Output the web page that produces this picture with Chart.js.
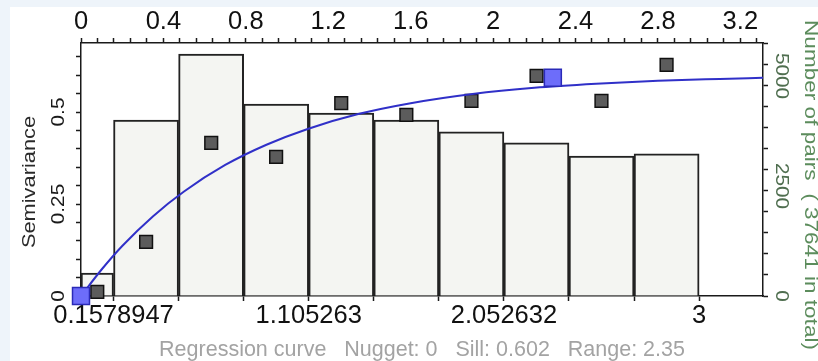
<!DOCTYPE html>
<html>
<head>
<meta charset="utf-8">
<title>Semivariogram</title>
<script src="https://cdn.jsdelivr.net/npm/chart.js@4.4.1/dist/chart.umd.min.js"></script>
<style>
  html, body { margin: 0; padding: 0; background: #eef4fa; }
  canvas { display: block; }
</style>
</head>
<body>
<canvas id="vario" width="818" height="361"></canvas>
<script>
// Lag bins and number of pairs per bin (right axis)
const binEdges = [0, 0.1578947, 0.4736842, 0.7894737, 1.1052632, 1.4210526, 1.7368421, 2.0526316, 2.3684211, 2.6842105, 3];
const pairCounts = [520, 4000, 5500, 4360, 4160, 4000, 3730, 3480, 3180, 3230];

// Experimental semivariance at the bin centres (left axis)
const lagCenters = [0.079, 0.316, 0.632, 0.947, 1.263, 1.579, 1.895, 2.211, 2.526, 2.842];
const semivariance = [0.011, 0.147, 0.416, 0.378, 0.524, 0.492, 0.53, 0.598, 0.53, 0.628];

// Regression curve
const curveLags = [0, 0.1, 0.2, 0.35, 0.5, 0.7, 0.9, 1.1, 1.35, 1.6, 1.9, 2.2, 2.5, 2.8, 3.1, 3.31];
const curveValues = [0, 0.072, 0.136, 0.217, 0.284, 0.356, 0.411, 0.454, 0.495, 0.524, 0.549, 0.566, 0.577, 0.585, 0.59, 0.593];

// Model handles (blue squares)
const handleLags = [0, 2.29];
const handleValues = [0, 0.593];

// Axes
const xMax = 3.31;
const topTicks = [0, 0.4, 0.8, 1.2, 1.6, 2, 2.4, 2.8, 3.2];
const bottomTickLabels = ['0.1578947', '1.105263', '2.052632', '3'];
const leftTickLabels = [0, 0.25, 0.5];
const rightTickLabels = [0, 2500, 5000];
const caption = 'Regression curve   Nugget: 0   Sill: 0.602   Range: 2.35';
const leftTitle = 'Semivariance';
const rightTitle = 'Number of pairs  ( 37641 in total)';

const narrow = "'Liberation Sans Narrow', 'Liberation Sans', Arial, sans-serif";
const hFont = { family: narrow, size: 25.5, lineHeight: 1 };
const captionFont = { family: narrow, size: 21.5, lineHeight: 1 };
const vFamily = "'Liberation Sans', Arial, sans-serif";
const axisColor = '#1a1a1a';

function near(a, b) { return Math.abs(a - b) < 1e-4; }

function binWidthPx(chart, i) {
  const s = chart.scales.x;
  if (!s) return 10;
  return s.getPixelForValue(binEdges[i + 1]) - s.getPixelForValue(binEdges[i]);
}

// white sheet behind the plot
const sheet = {
  id: 'sheet',
  beforeDraw(chart) {
    const ctx = chart.ctx;
    ctx.save();
    ctx.fillStyle = '#ffffff';
    ctx.fillRect(10, 7, chart.width - 10, chart.height - 7);
    ctx.restore();
  }
};

// rotated tick labels and side titles
function drawVertical(ctx, text, x, y, angle, size, stretch, color) {
  ctx.save();
  ctx.translate(x, y);
  ctx.rotate(angle);
  ctx.scale(stretch, 1);
  ctx.font = size + 'px ' + vFamily;
  ctx.fillStyle = color;
  ctx.textAlign = 'center';
  ctx.textBaseline = 'middle';
  ctx.fillText(text, 0, 0);
  ctx.restore();
}

const sideText = {
  id: 'sideText',
  afterDraw(chart) {
    const { ctx, scales: { y, y2 } } = chart;
    leftTickLabels.forEach(v => {
      drawVertical(ctx, String(v), y.right - 22, y.getPixelForValue(v), -Math.PI / 2, 18.5, 1.12, '#1a1a1a');
    });
    rightTickLabels.forEach(v => {
      drawVertical(ctx, String(v), y2.left + 18, y2.getPixelForValue(v), Math.PI / 2, 18.5, 1.12, '#4f6e4f');
    });
    drawVertical(ctx, leftTitle, 30, 182, -Math.PI / 2, 18.5, 1.18, '#2a2a2a');
    drawVertical(ctx, rightTitle, 810, 185, Math.PI / 2, 18.5, 1.22, '#5c8c5c');
  }
};

const firstBin = [{ x: (binEdges[0] + binEdges[1]) / 2, y: pairCounts[0] }];
const otherBins = pairCounts.slice(1).map((c, i) => ({ x: (binEdges[i + 1] + binEdges[i + 2]) / 2, y: c }));

new Chart(document.getElementById('vario'), {
  type: 'line',
  data: {
    datasets: [
      {
        type: 'bar',
        data: firstBin,
        xAxisID: 'x',
        yAxisID: 'y2',
        grouped: false,
        barThickness: ctx => binWidthPx(ctx.chart, 0),
        backgroundColor: '#f4f5f2',
        borderColor: '#222222',
        borderWidth: 2,
        order: 5
      },
      {
        type: 'bar',
        data: otherBins,
        xAxisID: 'x',
        yAxisID: 'y2',
        grouped: false,
        barThickness: ctx => binWidthPx(ctx.chart, 1),
        backgroundColor: '#f4f5f2',
        borderColor: '#222222',
        borderWidth: 2,
        order: 4
      },
      {
        type: 'scatter',
        data: lagCenters.map((h, i) => ({ x: h, y: semivariance[i] })),
        xAxisID: 'x',
        yAxisID: 'y',
        pointStyle: 'rect',
        pointRadius: 9,
        backgroundColor: '#5c5c5c',
        borderColor: '#111111',
        borderWidth: 1.5,
        clip: false,
        order: 3
      },
      {
        type: 'line',
        data: curveLags.map((h, i) => ({ x: h, y: curveValues[i] })),
        xAxisID: 'x',
        yAxisID: 'y',
        borderColor: '#3030c8',
        borderWidth: 2,
        pointRadius: 0,
        cubicInterpolationMode: 'monotone',
        fill: false,
        order: 2
      },
      {
        type: 'scatter',
        data: handleLags.map((h, i) => ({ x: h, y: handleValues[i] })),
        xAxisID: 'x',
        yAxisID: 'y',
        pointStyle: 'rect',
        pointRadius: 12,
        backgroundColor: '#6d6dfa',
        borderColor: '#2a2ab8',
        borderWidth: 1.5,
        clip: false,
        order: 1
      }
    ]
  },
  options: {
    responsive: false,
    animation: false,
    events: [],
    layout: { padding: 0 },
    plugins: {
      legend: { display: false },
      tooltip: { enabled: false }
    },
    scales: {
      x: {
        type: 'linear',
        position: 'bottom',
        min: 0,
        max: xMax,
        offset: false,
        afterBuildTicks: s => { s.ticks = binEdges.slice(1).map(v => ({ value: v })); },
        afterFit: s => { s.height = 65; },
        grid: { drawOnChartArea: false, offset: false, tickLength: 5, tickColor: axisColor, tickWidth: 1.5 },
        border: { color: axisColor, width: 1.5 },
        ticks: {
          autoSkip: false, maxRotation: 0, minRotation: 0, padding: 2,
          color: '#111111', font: hFont,
          callback: v => bottomTickLabels.find(l => near(parseFloat(l), v)) || ''
        },
        title: { display: true, text: caption, color: '#a3a3a3', font: captionFont, padding: { top: 0, bottom: 0 } }
      },
      x2: {
        type: 'linear',
        position: 'top',
        min: 0,
        max: xMax,
        afterFit: s => { s.height = 43; },
        grid: { drawOnChartArea: false, tickLength: 5, tickColor: axisColor, tickWidth: 1.5 },
        border: { color: axisColor, width: 1.5 },
        ticks: {
          stepSize: 0.08, includeBounds: false, autoSkip: false, maxRotation: 0, minRotation: 0, padding: 3,
          color: '#111111', font: hFont,
          callback: v => { const t = topTicks.find(k => near(k, v)); return t === undefined ? '' : String(t); }
        }
      },
      y: {
        type: 'linear',
        position: 'left',
        min: 0,
        max: 0.6875,
        afterFit: s => { s.width = 81; },
        grid: { drawOnChartArea: false, tickLength: 5, tickColor: axisColor, tickWidth: 1.5 },
        border: { color: axisColor, width: 1.5 },
        ticks: { display: false, stepSize: 0.05, includeBounds: false, autoSkip: false }
      },
      y2: {
        type: 'linear',
        position: 'right',
        min: 0,
        max: 5750,
        afterFit: s => { s.width = 55; },
        grid: { drawOnChartArea: false, tickLength: 5, tickColor: axisColor, tickWidth: 1.5 },
        border: { color: axisColor, width: 1.5 },
        ticks: { display: false, stepSize: 500, includeBounds: false, autoSkip: false }
      }
    }
  },
  plugins: [sheet, sideText]
});
</script>
</body>
</html>
